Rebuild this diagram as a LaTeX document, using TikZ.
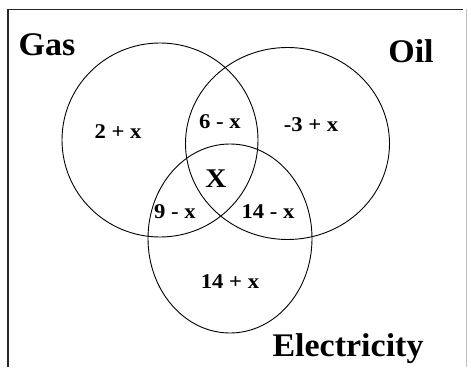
\documentclass[tikz,border=0pt]{standalone}
\usepackage{fontspec}
\setmainfont{Liberation Serif}
\usetikzlibrary{shapes.geometric}
\begin{document}
\begin{tikzpicture}[x=1pt,y=-1pt,
  setlabel/.style={font=\fontsize{33}{33}\selectfont\bfseries, inner sep=0pt, xscale=1.03},
  regionlabel/.style={font=\fontsize{21}{21}\selectfont\bfseries, inner sep=0pt, xscale=1.08},
  setring/.style={draw=black, line width=0.9pt}]
\useasboundingbox (0,0) rectangle (470,374);
\fill[white] (0,0) rectangle (470,374);
% frame
\draw[line width=1.6pt, black!85] (8,367) -- (8,9.5) -- (463,9.5);
\draw[line width=0.8pt, black!25] (466,9.5) -- (466,367);
% circles
\node[setring, ellipse, minimum width=196pt, minimum height=194pt, inner sep=0pt] (gas) at (160,140) {};
\node[setring, ellipse, minimum width=204pt, minimum height=192pt, inner sep=0pt] (oil) at (287.5,143.5) {};
\node[setring, ellipse, minimum width=164pt, minimum height=189pt, inner sep=0pt] (elec) at (230,238.5) {};
% set labels
\node[setlabel] (gaslbl) at (47,45) {Gas};
\node[setlabel] (oillbl) at (411,51) {Oil};
\node[setlabel] (eleclbl) at (348,349) {Electricity};
% region labels
\node[regionlabel] (r1) at (118,132) {2 + x};
\node[regionlabel] (r2) at (220,122) {6 - x};
\node[regionlabel] (r3) at (311,125) {-3 + x};
\node[regionlabel, font=\fontsize{27}{27}\selectfont\bfseries] (r4) at (216,179) {X};
\node[regionlabel] (r5) at (175,212) {9 - x};
\node[regionlabel] (r6) at (268,212) {14 - x};
\node[regionlabel] (r7) at (230,282) {14 + x};
\end{tikzpicture}
\end{document}
